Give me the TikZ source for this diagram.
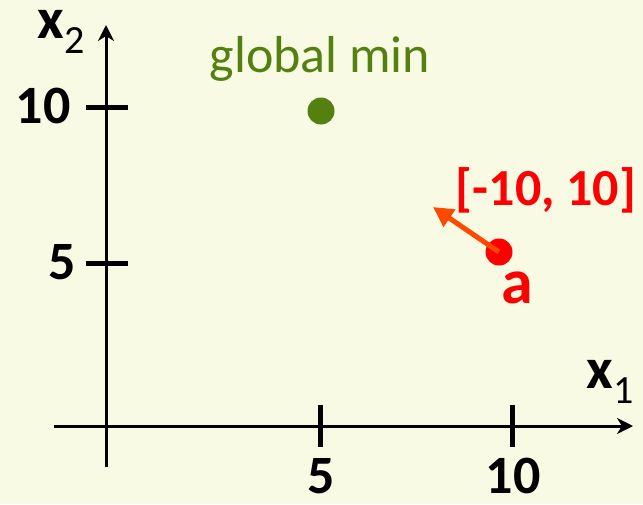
\documentclass[tikz,border=0pt]{standalone}
\usepackage{fontspec}
\setmainfont{Carlito}
\usetikzlibrary{arrows.meta}
\definecolor{paperYellow}{RGB}{248,250,228}
\definecolor{minGreen}{RGB}{84,128,16}
\definecolor{pointRed}{RGB}{255,0,0}
\definecolor{stepOrange}{RGB}{255,72,0}
\newcommand{\AxisName}[1]{\textbf{x}\raisebox{-7.5pt}{\fontsize{20}{20}\selectfont #1}}

\begin{document}
\begin{tikzpicture}[x=0.5pt,y=-0.5pt,
  axisline/.style={line width=1.5pt,-{Stealth[length=8pt,width=8pt,inset=2.5pt]}},
  tickmark/.style={line width=2.5pt},
  ticklabel/.style={font=\fontsize{27}{27}\selectfont\bfseries,inner sep=0pt,anchor=base},
  axisname/.style={font=\fontsize{29}{29}\selectfont,inner sep=0pt,anchor=base west,text height=14pt,text depth=8pt},
  dotmark/.style={circle,inner sep=0pt,minimum size=13.5pt}]
\fill[paperYellow] (0,0) rectangle (643,504);
\useasboundingbox (0,0) rectangle (643,504);
% axes
\coordinate (x1start) at (54,426);
\coordinate (x1end) at (633,426);
\coordinate (x2start) at (106,467);
\coordinate (x2end) at (106,25);
\draw[axisline] (x1start) -- (x1end);
\draw[axisline] (x2start) -- (x2end);
\node[axisname] (x1name) at (586,388) {\AxisName{1}};
\node[axisname] (x2name) at (37,38) {\AxisName{2}};
% ticks
\foreach \px/\lab in {320/5,512/10}{
  \draw[tickmark] (\px,405) -- (\px,447);
  \node[ticklabel] (xt\lab) at (\px+1,493) {\lab};
}
\foreach \py/\lab/\lx in {107/10/43,263/5/62}{
  \draw[tickmark] (86,\py) -- (128,\py);
  \node[ticklabel] (yt\lab) at (\lx,\py+16) {\lab};
}
% points
\node[dotmark,fill=minGreen] (globalmin) at (321,111) {};
\node[font=\fontsize{26}{26}\selectfont,text=minGreen,inner sep=0pt,anchor=base] (globallabel) at (320,72) {global min};
\node[dotmark,fill=pointRed] (apoint) at (499,252) {};
\coordinate (steptip) at (433,207);
\draw[stepOrange,line width=2.5pt,-{Triangle[length=10pt,width=10pt]}] (apoint.center) -- (steptip);
\node[font=\fontsize{26}{26}\selectfont\bfseries,text=pointRed,inner sep=0pt,anchor=base] (steplabel) at (546,205) {[-10, 10]};
\node[font=\fontsize{32}{32}\selectfont\bfseries,text=pointRed,inner sep=0pt,anchor=base] (alabel) at (517,303) {a};
\end{tikzpicture}
\end{document}
